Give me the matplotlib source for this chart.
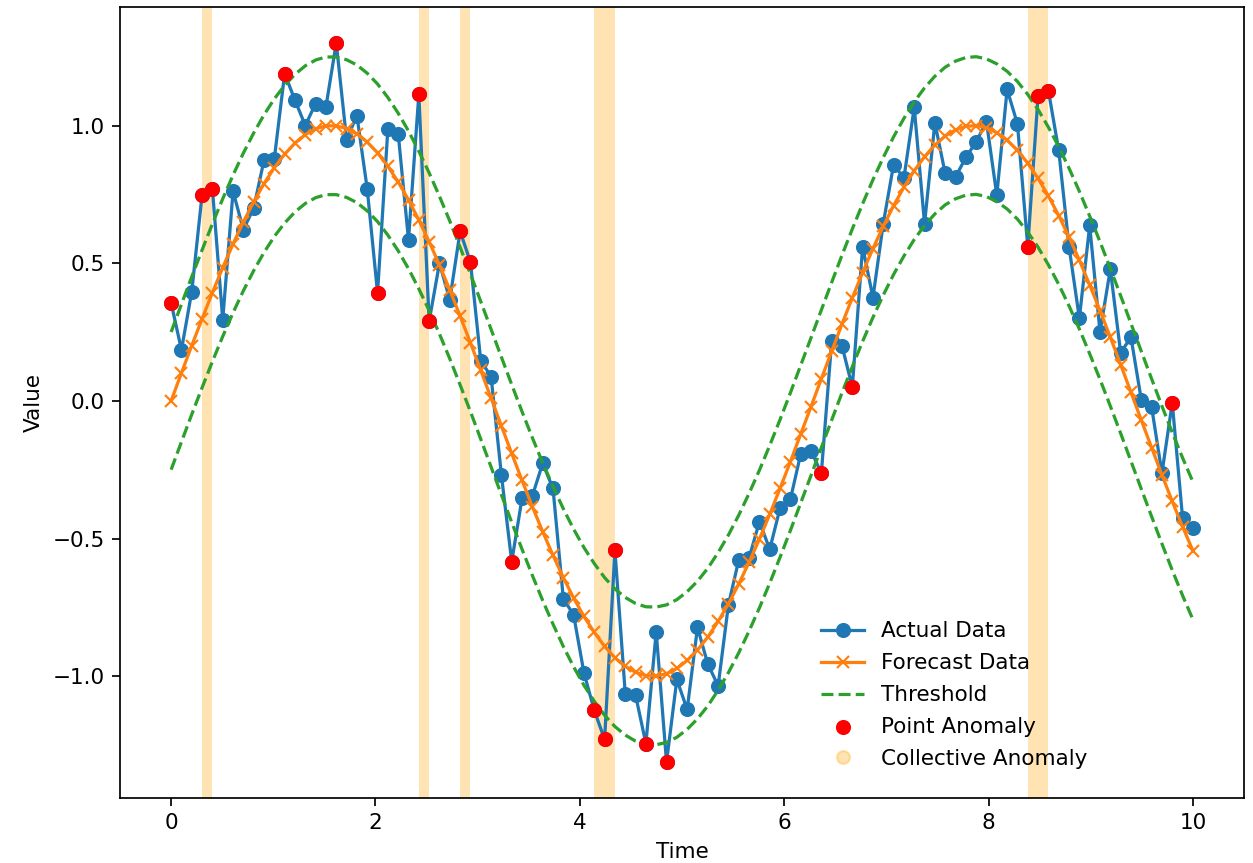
import matplotlib
matplotlib.use("Agg")
import matplotlib.pyplot as plt
from matplotlib.lines import Line2D
import numpy as np

# time grid: 100 samples over 0..10
time = np.linspace(0, 10, 100)

actual = [0.356, 0.185, 0.397, 0.749, 0.770, 0.295, 0.761, 0.622, 0.700, 0.874,
          0.880, 1.189, 1.092, 1.000, 1.080, 1.068, 1.300, 0.949, 1.036, 0.770,
          0.392, 0.988, 0.971, 0.585, 1.113, 0.289, 0.500, 0.367, 0.616, 0.504,
          0.146, 0.088, -0.269, -0.584, -0.354, -0.345, -0.227, -0.318, -0.718, -0.778,
          -0.988, -1.124, -1.230, -0.542, -1.063, -1.069, -1.245, -0.839, -1.312, -1.012,
          -1.121, -0.823, -0.956, -1.035, -0.740, -0.578, -0.570, -0.439, -0.539, -0.390,
          -0.358, -0.193, -0.181, -0.263, 0.216, 0.200, 0.050, 0.560, 0.375, 0.644,
          0.858, 0.809, 1.066, 0.643, 1.010, 0.826, 0.813, 0.884, 0.941, 1.014,
          0.747, 1.131, 1.006, 0.560, 1.108, 1.127, 0.910, 0.560, 0.300, 0.637,
          0.250, 0.478, 0.175, 0.231, 0.004, -0.022, -0.263, -0.007, -0.425, -0.461]

# forecast series
forecast = [0.000, 0.101, 0.201, 0.298, 0.393, 0.484, 0.570, 0.650, 0.723, 0.789,
            0.847, 0.896, 0.936, 0.967, 0.988, 0.999, 0.999, 0.989, 0.970, 0.940,
            0.901, 0.852, 0.795, 0.730, 0.657, 0.578, 0.493, 0.403, 0.308, 0.211,
            0.111, 0.010, -0.091, -0.191, -0.289, -0.384, -0.475, -0.561, -0.642, -0.716,
            -0.783, -0.841, -0.892, -0.933, -0.964, -0.986, -0.998, -0.999, -0.991, -0.972,
            -0.943, -0.905, -0.858, -0.801, -0.737, -0.665, -0.586, -0.502, -0.412, -0.318,
            -0.221, -0.121, -0.021, 0.080, 0.180, 0.279, 0.374, 0.466, 0.553, 0.634,
            0.709, 0.776, 0.836, 0.887, 0.929, 0.962, 0.984, 0.997, 1.000, 0.992,
            0.974, 0.947, 0.910, 0.863, 0.808, 0.744, 0.673, 0.595, 0.511, 0.421,
            0.328, 0.231, 0.132, 0.031, -0.070, -0.170, -0.269, -0.365, -0.457, -0.544]

band = 0.25

point_idx = [0, 3, 4, 11, 16, 20, 24, 25, 28, 29, 33, 41, 42, 43, 46, 48,
             63, 66, 83, 84, 85, 97]

# collective anomaly windows (start index, end index)
collective = [(3, 4), (24, 25), (28, 29), (41, 43), (83, 85)]

actual = np.array(actual)
forecast = np.array(forecast)

fig = plt.figure(figsize=(1253 / 155, 863 / 155), dpi=155)
ax = fig.add_axes([0.0958, 0.0753, 0.897, 0.9166])

ax.plot(time, actual, marker="o", color="C0", label="Actual Data")
ax.plot(time, forecast, marker="x", color="C1", label="Forecast Data")
ax.plot(time, forecast + band, "--", color="C2", label="Threshold")
ax.plot(time, forecast - band, "--", color="C2")
ax.scatter(time[point_idx], actual[point_idx], color="red", zorder=3,
           label="Point Anomaly")
for a, b in collective:
    ax.axvspan(time[a], time[b], color="orange", alpha=0.3, lw=0)

handles, labels = ax.get_legend_handles_labels()
handles.append(Line2D([], [], ls="", marker="o", color="orange", alpha=0.3))
labels.append("Collective Anomaly")
ax.legend(handles, labels, loc="lower left", bbox_to_anchor=(0.616, 0.026),
          frameon=False, borderaxespad=0, labelspacing=0.55)

ax.set_xlabel("Time")
ax.set_ylabel("Value")

fig.savefig("out.png", dpi=155)
